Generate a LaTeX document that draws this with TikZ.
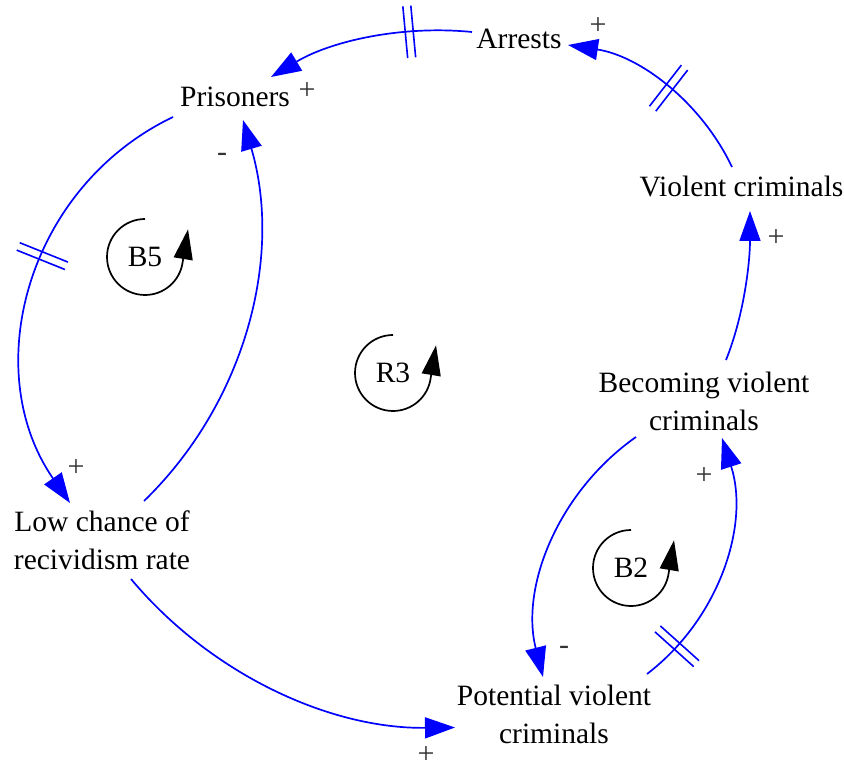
\documentclass[tikz,border=0pt]{standalone}
\usepackage{fontspec}
\setmainfont{Liberation Serif}
\usetikzlibrary{arrows.meta,decorations.markings}
\begin{document}
\begin{tikzpicture}[x=1pt,y=1pt,
  lbl/.style={font=\fontsize{29.5}{38}\selectfont, align=center, inner sep=0pt},
  pol/.style={font=\fontsize{30}{30}\selectfont, text=black!80, inner sep=0pt},
  link/.style={draw=blue, line width=1.7pt, -{Triangle[length=30pt,width=21pt]}},
  delaymark/.style={postaction={decorate,decoration={markings,
     mark=at position #1 with {\draw[arrows=-, draw=blue, line width=1.6pt] (-4,-26)--(-4,26) (4,-26)--(4,26);}}}},
  loopline/.style={draw=black, line width=1.7pt, -{Triangle[length=30pt,width=19pt]}}
]
\useasboundingbox (0,0) rectangle (844,-767);
\fill[white] (0,0) rectangle (844,-767);

% variables
\node[lbl] (arrests) at (519,-39) {Arrests};
\node[lbl] (prisoners) at (235,-97) {Prisoners};
\node[lbl] (violent) at (741.5,-186.5) {Violent criminals};
\node[lbl] (becoming) at (704,-401) {Becoming violent\\criminals};
\node[lbl] (potential) at (554,-714) {Potential violent\\criminals};
\node[lbl] (lowchance) at (102,-540) {Low chance of\\recividism rate};

% links
\draw[link, delaymark=0.3] ([shift={(-47,7)}]arrests.center) .. controls (402,-25) and (331,-41) .. ([shift={(36,20)}]prisoners.center);
\draw[link, delaymark=0.48] ([shift={(-9.5,19.5)}]violent.center) .. controls (701,-102) and (640,-56) .. ([shift={(49,-6)}]arrests.center);
\draw[link] ([shift={(22,41)}]becoming.center) .. controls (744.5,-314) and (750,-261) .. ([shift={(8.5,-24.5)}]violent.center);
\draw[link, delaymark=0.155] ([shift={(93,40)}]potential.center) .. controls (719,-619) and (750,-525) .. ([shift={(18,-37)}]becoming.center);
\draw[link] ([shift={(-68,-36)}]becoming.center) .. controls (559,-491) and (520,-586) .. ([shift={(-11,37)}]potential.center);
\draw[link] ([shift={(29,-39)}]lowchance.center) .. controls (211,-674.5) and (330,-729) .. ([shift={(-99,-13.5)}]potential.center);
\draw[link, delaymark=0.43] ([shift={(-62,-20)}]prisoners.center) .. controls (27,-187) and (-22,-370) .. ([shift={(-32,37)}]lowchance.center);
\draw[link] ([shift={(42,39)}]lowchance.center) .. controls (246,-402) and (283,-256) .. ([shift={(8,-23)}]prisoners.center);

% polarities
\node[pol] (p1) at (307,-91) {+};
\node[pol] (p2) at (598,-26) {+};
\node[pol] (p3) at (776,-238) {+};
\node[pol] (p4) at (704,-476) {+};
\node[pol] (p5) at (564,-650) {-};
\node[pol] (p6) at (426,-755) {+};
\node[pol] (p7) at (76,-468) {+};
\node[pol] (p8) at (222,-157) {-};

% loops
\node[lbl] (b5) at (145,-257) {B5};
\node[lbl] (r3) at (393,-373) {R3};
\node[lbl] (b2) at (631,-568) {B2};
\draw[loopline] ([shift={(90:38)}]b5.center) arc[start angle=90,end angle=352,radius=38] -- ++(5.4,33);
\draw[loopline] ([shift={(90:38)}]r3.center) arc[start angle=90,end angle=352,radius=38] -- ++(5.4,33);
\draw[loopline] ([shift={(90:38)}]b2.center) arc[start angle=90,end angle=352,radius=38] -- ++(5.4,33);
\end{tikzpicture}
\end{document}
